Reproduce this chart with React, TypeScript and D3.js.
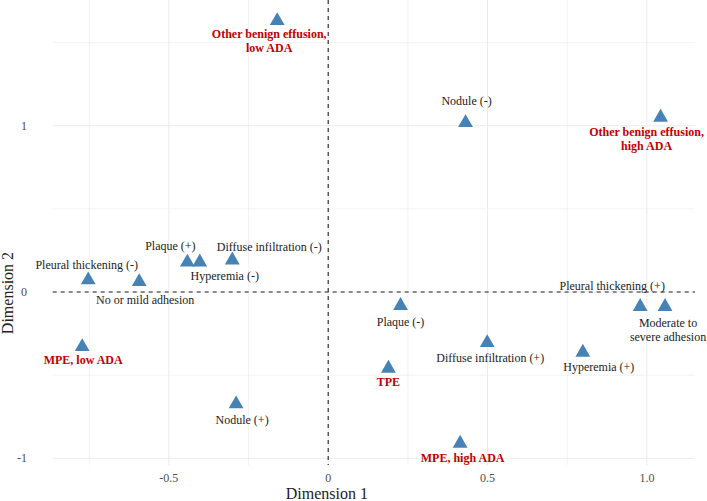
import React from "react";
import * as d3 from "d3";

const labels: string[][] = [
  ["Other benign effusion,", "low ADA"],
  ["Nodule (-)"],
  ["Other benign effusion,", "high ADA"],
  ["Pleural thickening (-)"],
  ["No or mild adhesion"],
  ["Plaque (+)"],
  ["Hyperemia (-)"],
  ["Diffuse infiltration (-)"],
  ["MPE, low ADA"],
  ["Nodule (+)"],
  ["Plaque (-)"],
  ["Diffuse infiltration (+)"],
  ["TPE"],
  ["Hyperemia (+)"],
  ["Pleural thickening (+)"],
  ["Moderate to", "severe adhesion"],
  ["MPE, high ADA"],
];
const dim1: number[] = [-0.16, 0.431, 1.043, -0.753, -0.593, -0.442, -0.403, -0.301, -0.772, -0.289, 0.227, 0.499, 0.189, 0.799, 0.979, 1.057, 0.414];
const dim2: number[] = [1.631, 1.018, 1.05, 0.072, 0.062, 0.179, 0.18, 0.192, -0.329, -0.673, -0.082, -0.305, -0.459, -0.363, -0.088, -0.088, -0.91];
const isGroup: boolean[] = [true, false, true, false, false, false, false, false, true, false, false, false, true, false, false, false, true];

// label placement offsets in px (layout, not data)
const labelDx: number[] = [-8, 1, -14, -1.5, 6, -17, 25, 37, 1, 6, 0, 3, 0, 16, -28, 3, 2.5];
const labelDy: number[] = [17, -17.7, 19, -11, 22, -12, 18, -9.5, 17, 20, 20, 19, 18, 19, -17, 20, 19];

const xMajor: number[] = [-0.5, 0, 0.5, 1.0];
const xMinor: number[] = [-0.75, -0.25, 0.25, 0.75];
const yMajor: number[] = [-1, 0, 1];
const yMinor: number[] = [-0.5, 0.5, 1.5];
const xTickLabels: string[] = ["-0.5", "0", "0.5", "1.0"];
const yTickLabels: string[] = ["-1", "0", "1"];

const W = 707;
const H = 501;
const left = 52.7;
const right = 695;
const top = 0;
const bottom = 465;

export default function App() {
  const x = d3.scaleLinear().domain([-0.8645, 1.151]).range([left, right]);
  const y = d3.scaleLinear().domain([-1.04, 1.756]).range([bottom, top]);
  const tri = d3.symbol().type(d3.symbolTriangle).size(95)();
  const font = "'Liberation Serif', 'Times New Roman', serif";
  const grid = "#ebebeb";
  return (
    <svg width={W} height={H} style={{ position: "absolute", left: 0, top: 0, display: "block", background: "#fff" }} fontFamily={font}>
      {xMinor.map((v, i) => (
        <line key={"xm" + i} x1={x(v)} x2={x(v)} y1={top} y2={bottom} stroke={grid} strokeWidth={0.6} />
      ))}
      {yMinor.map((v, i) => (
        <line key={"ym" + i} x1={left} x2={right} y1={y(v)} y2={y(v)} stroke={grid} strokeWidth={0.6} />
      ))}
      {xMajor.map((v, i) => (
        <line key={"xM" + i} x1={x(v)} x2={x(v)} y1={top} y2={bottom} stroke={grid} strokeWidth={1} />
      ))}
      {yMajor.map((v, i) => (
        <line key={"yM" + i} x1={left} x2={right} y1={y(v)} y2={y(v)} stroke={grid} strokeWidth={1} />
      ))}
      <line x1={left} x2={right} y1={y(0)} y2={y(0)} stroke="#222" strokeWidth={1.1} strokeDasharray="4,4" />
      <line x1={x(0)} x2={x(0)} y1={top} y2={bottom} stroke="#222" strokeWidth={1.1} strokeDasharray="4,4" />
      {dim1.map((v, i) => (
        <path key={"p" + i} d={tri as string} transform={`translate(${x(v)},${y(dim2[i])})`} fill="#4682b4" />
      ))}
      {labels.map((lines, i) => (
        <text
          key={"l" + i}
          x={x(dim1[i]) + labelDx[i]}
          y={y(dim2[i]) + labelDy[i]}
          textAnchor="middle"
          fontSize={12}
          fontWeight={isGroup[i] ? "bold" : "normal"}
          fill={isGroup[i] ? "#c00000" : "#222"}
        >
          {lines.map((t, j) => (
            <tspan key={j} x={x(dim1[i]) + labelDx[i]} dy={j === 0 ? 0 : 14}>
              {t}
            </tspan>
          ))}
        </text>
      ))}
      {xMajor.map((v, i) => (
        <text key={"xt" + i} x={x(v)} y={482} textAnchor="middle" fontSize={12} fill="#4d4d4d">
          {xTickLabels[i]}
        </text>
      ))}
      {yMajor.map((v, i) => (
        <text key={"yt" + i} x={27} y={y(v) + 4} textAnchor="end" fontSize={12} fill="#4d4d4d">
          {yTickLabels[i]}
        </text>
      ))}
      <text x={(left + right) / 2 - 47} y={499} textAnchor="middle" fontSize={16} fill="#222">
        Dimension 1
      </text>
      <text transform={`translate(13,${y(0) + 1}) rotate(-90)`} textAnchor="middle" fontSize={16} fill="#222">
        Dimension 2
      </text>
    </svg>
  );
}
